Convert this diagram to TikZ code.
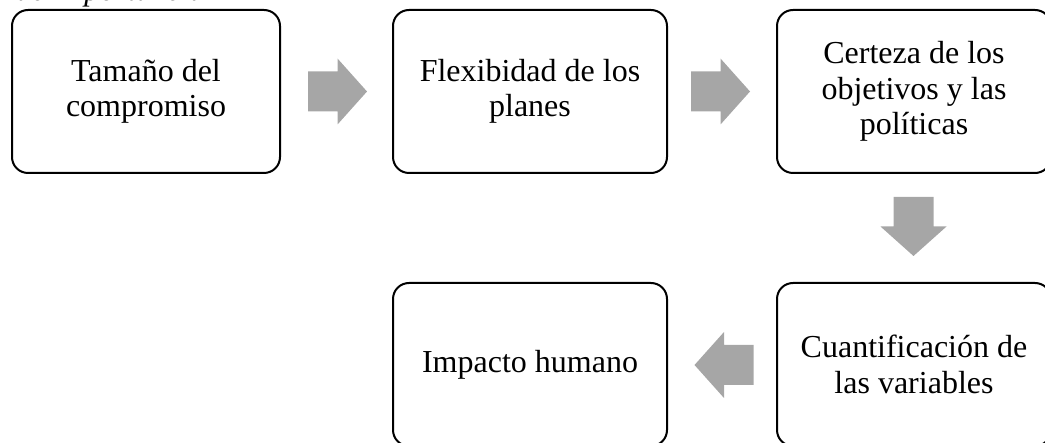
\documentclass[tikz,border=0pt]{standalone}
\usepackage{fontspec}
\setmainfont{Liberation Serif}
\usetikzlibrary{calc}
\definecolor{arrowgray}{RGB}{166,166,166}
\tikzset{
  stage/.style={draw=black, line width=2pt, rounded corners=16pt, fill=white,
    minimum width=274pt, minimum height=163pt, inner sep=0pt, align=center,
    font=\fontsize{32}{35.5}\selectfont},
  blockarrow/.style={fill=arrowgray, draw=none}
}
\newcommand{\bigarrow}[2]{%
  \fill[arrowgray, shift={(#1)}, rotate=#2]
    (-29.5,-20) -- (0,-20) -- (0,-33) -- (29.5,0) -- (0,33) -- (0,20) -- (-29.5,20) -- cycle;}
\begin{document}
\begin{tikzpicture}[x=1pt,y=-1pt]
\useasboundingbox (0,0) rectangle (1045,443);
\node[anchor=base east, font=\fontsize{31}{35}\selectfont\itshape, inner sep=0pt] (title) at (205,1) {de importancia};
\node[stage, minimum width=268pt] (a) at (146,91.5) {Tamaño del\\compromiso};
\node[stage] (b) at (530,91.5) {Flexibidad de los\\planes};
\node[stage] (c) at (914,91.5) {Certeza de los\\objetivos y las\\políticas};
\node[stage] (d) at (914,364.5) {Cuantificación de\\las variables};
\node[stage] (e) at (530,364.5) {Impacto humano};
\coordinate (ab) at ($(a.east)!0.5!(b.west)+(1,0)$);
\coordinate (bc) at ($(b.east)!0.5!(c.west)+(-1.5,0)$);
\coordinate (cd) at ($(c.south)!0.5!(d.north)+(-0.5,-1.5)$);
\coordinate (de) at ($(d.west)!0.5!(e.east)+(2,0.5)$);
\bigarrow{ab}{0}
\bigarrow{bc}{0}
\bigarrow{cd}{-90}
\bigarrow{de}{180}
\end{tikzpicture}
\end{document}
